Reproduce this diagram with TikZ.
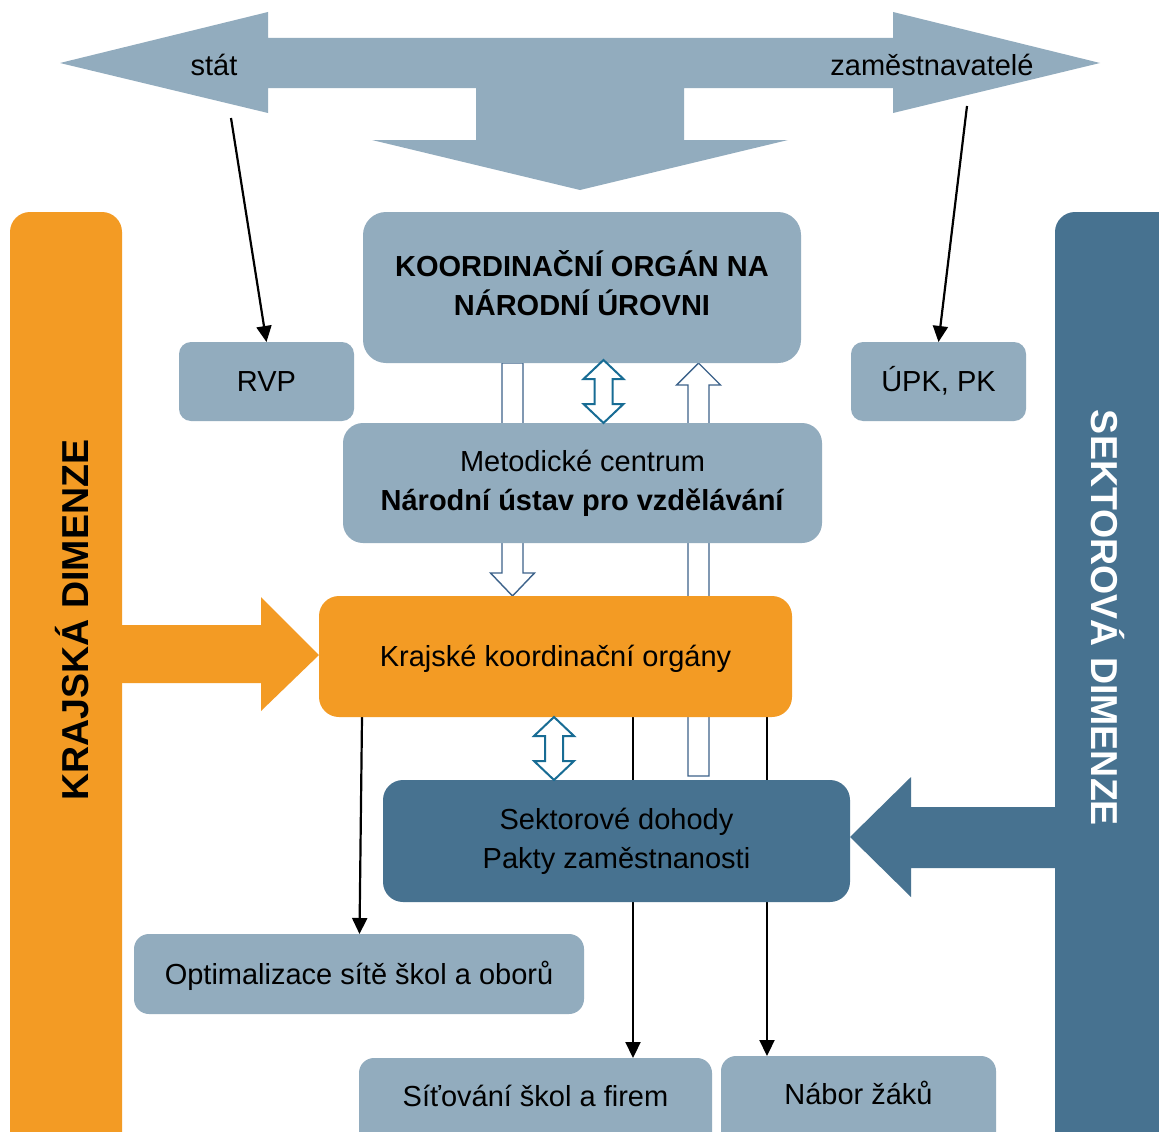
\documentclass[tikz,border=0pt]{standalone}
\usepackage{fontspec}
\setmainfont{Liberation Sans}
\usetikzlibrary{arrows.meta,backgrounds,calc}

\definecolor{paleblue}{RGB}{146,172,190}
\definecolor{deepblue}{RGB}{71,114,144}
\definecolor{amber}{RGB}{243,155,36}
\definecolor{tealline}{RGB}{24,108,148}
\definecolor{outlineblue}{RGB}{60,98,138}

% two-headed hollow arrow between an upper and a lower end point
\newcommand\twowayarrow[2]{%
  \draw[twoway] let \p1=#1, \p2=#2 in
    (\p1) -- (\x1+20pt,\y1-19pt) -- (\x1+9pt,\y1-19pt) -- (\x1+9pt,\y2+19pt)
    -- (\x1+20pt,\y2+19pt) -- (\p2) -- (\x1-20pt,\y2+19pt) -- (\x1-9pt,\y2+19pt)
    -- (\x1-9pt,\y1-19pt) -- (\x1-20pt,\y1-19pt) -- cycle;}

\begin{document}
\begin{tikzpicture}[x=1pt,y=-1pt,
  txt/.style={font=\fontsize{29pt}{39pt}\selectfont},
  boxbase/.style={txt, inner sep=0pt, outer sep=0pt, align=center},
  palebox/.style={boxbase, fill=paleblue},
  amberbox/.style={boxbase, fill=amber},
  deepbox/.style={boxbase, fill=deepblue},
  oneline/.style={text height=20.8pt, text depth=0pt},
  hollow/.style={fill=white, draw=outlineblue, line width=1.4pt},
  twoway/.style={fill=white, draw=tealline, line width=2pt},
  pointer/.style={draw=black, line width=2.2pt, -{Triangle[length=16pt,width=15pt]}},
  sidelabel/.style={font=\bfseries\fontsize{37.5pt}{40pt}\selectfont, inner sep=0pt}
]
\useasboundingbox (0,0) rectangle (1159,1132);

% helper x positions
\coordinate (xdown) at (512.5,0);
\coordinate (xup) at (698.5,0);
\coordinate (xtw1) at (603.5,0);
\coordinate (xtw2) at (554,0);
\coordinate (xopt) at (362,0);
\coordinate (xopt2) at (359.5,0);
\coordinate (xsit) at (633,0);
\coordinate (xnab) at (767,0);
\coordinate (statfoot) at (231,118);
\coordinate (zamfoot) at (967,106);

% boxes
\node[palebox, font=\bfseries\fontsize{29pt}{39pt}\selectfont, rounded corners=23pt,
      text depth=8pt, minimum width=438pt, minimum height=151pt] (koord) at (582,287.5)
      {KOORDINAČNÍ ORGÁN NA\\NÁRODNÍ ÚROVNI};
\node[palebox, oneline, rounded corners=12pt, minimum width=175pt, minimum height=79pt]
      (rvp) at (266.5,381.5) {RVP};
\node[palebox, oneline, rounded corners=12pt, minimum width=175pt, minimum height=79pt]
      (upk) at (938.5,381.5) {ÚPK, PK};
\node[palebox, rounded corners=20pt, minimum width=479pt, minimum height=120pt]
      (metod) at (582.5,483) {Metodické centrum\\\textbf{Národní ústav pro vzdělávání}};
\node[amberbox, oneline, rounded corners=20pt, minimum width=473pt, minimum height=121pt]
      (krajske) at (555.5,656.5) {Krajské koordinační orgány};
\node[deepbox, rounded corners=20pt, minimum width=467pt, minimum height=122pt]
      (sekt) at (616.5,841) {Sektorové dohody\\Pakty zaměstnanosti};
\node[palebox, oneline, rounded corners=15pt, minimum width=450pt, minimum height=80pt]
      (opti) at (359,974) {Optimalizace sítě škol a oborů};
\node[palebox, rounded corners=15pt, anchor=north, text height=20.8pt, text depth=74pt,
      minimum width=353pt, minimum height=150pt]
      (sit) at (535.5,1058) {Síťování škol a firem};
\node[palebox, rounded corners=15pt, anchor=north, text height=20.8pt, text depth=74pt,
      minimum width=275pt, minimum height=150pt]
      (nabor) at (858.5,1056) {Nábor žáků};

% labels on the big arrow
\node[txt, anchor=base, inner sep=0pt] (stat) at (214,75) {stát};
\node[txt, anchor=base, inner sep=0pt] (zam) at (932,75) {zaměstnavatelé};

% two-way links
\twowayarrow{($(koord.south -| xtw1)+(0,-3)$)}{(metod.north -| xtw1)}
\twowayarrow{(krajske.south -| xtw2)}{(sekt.north -| xtw2)}

\begin{scope}[on background layer]
  \fill[white] (0,0) rectangle (1159,1132);
  % dimension bars
  \fill[amber, rounded corners=20pt] (10,212) rectangle (122,1180);
  \fill[deepblue, rounded corners=20pt] (1055,212) rectangle (1190,1180);
  % top three-way arrow
  \fill[paleblue] (60,63) -- (268,12) -- (268,38) -- (893,38) -- (893,12) -- (1100,63)
    -- (893,113) -- (893,88) -- (684,88) -- (684,140) -- (788,140) -- (580,190)
    -- (372,140) -- (476,140) -- (476,88) -- (268,88) -- (268,113) -- cycle;
  % block arrows from the bars
  \fill[amber] (100,625) -- (261,625) -- (261,597) -- (krajske.west |- 0,655)
    -- (261,711) -- (261,683) -- (100,683) -- cycle;
  \fill[deepblue] (1070,807) -- (911,807) -- (911,777) -- (sekt.east |- 0,837)
    -- (911,897) -- (911,868) -- (1070,868) -- cycle;
  % hollow one-way arrows
  \path[hollow] let \p1=(koord.south -| xdown), \p2=(krajske.north -| xdown) in
    (\x1-10.5pt,\y1) -- (\x1-10.5pt,\y2+23pt) -- (\x1-22pt,\y2+23pt) -- (\p2)
    -- (\x1+22pt,\y2+23pt) -- (\x1+10.5pt,\y2+23pt) -- (\x1+10.5pt,\y1) -- cycle;
  \path[hollow] let \p1=(sekt.north -| xup), \p2=(koord.south -| xup) in
    (\x1-10.5pt,\y1+4pt) -- (\x1-10.5pt,\y2-22pt) -- (\x1-22pt,\y2-22pt) -- (\p2)
    -- (\x1+22pt,\y2-22pt) -- (\x1+10.5pt,\y2-22pt) -- (\x1+10.5pt,\y1+4pt) -- cycle;
  % plain connectors
  \draw[pointer] (statfoot) -- (rvp.north);
  \draw[pointer] (zamfoot) -- (upk.north);
  \draw[pointer] (krajske.south -| xopt) -- (opti.north -| xopt2);
  \draw[pointer] (krajske.south -| xsit) -- (sit.north -| xsit);
  \draw[pointer] (krajske.south -| xnab) -- (nabor.north -| xnab);
\end{scope}

% side dimension captions
\node[sidelabel, rotate=90, anchor=base] (kraj) at (88,620) {KRAJSKÁ DIMENZE};
\node[sidelabel, rotate=-90, anchor=base, text=white] (sekdim) at (1091,618) {SEKTOROVÁ DIMENZE};
\end{tikzpicture}
\end{document}
